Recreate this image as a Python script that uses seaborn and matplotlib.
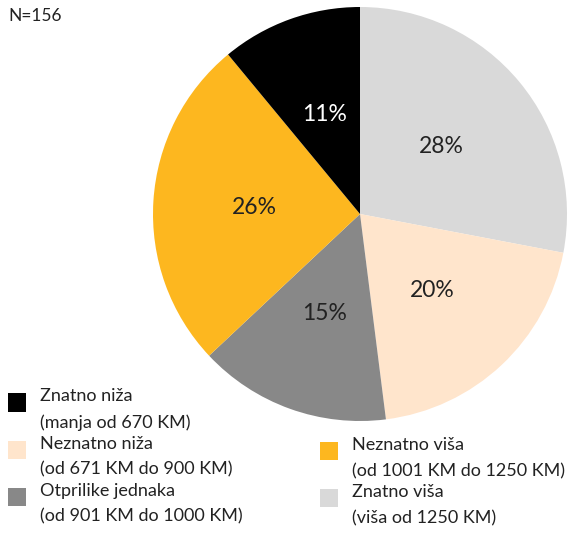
import matplotlib
matplotlib.use("Agg")
import matplotlib.pyplot as plt
import seaborn as sns
from matplotlib.patches import Patch, Rectangle
from matplotlib.legend_handler import HandlerPatch

sns.set_theme(style="white")
plt.rcParams['font.family'] = ['Lato', 'DejaVu Sans']

# pie order (clockwise from top)
pie_labels = ["Znatno viša", "Neznatno niža", "Otprilike jednaka", "Neznatno viša", "Znatno niža"]
pie_values = [28, 20, 15, 26, 11]
pie_colors = ["#D9D9D9", "#FFE5CC", "#888888", "#FDB71F", "#000000"]
pct_colors = ["#222222", "#222222", "#222222", "#222222", "#FFFFFF"]

# legend order
legend_col1 = ["Znatno niža\n(manja od 670 KM)", "Neznatno niža\n(od 671 KM do 900 KM)",
               "Otprilike jednaka\n(od 901 KM do 1000 KM)"]
legend_col1_colors = ["#000000", "#FFE5CC", "#888888"]
legend_col2 = ["Neznatno viša\n(od 1001 KM do 1250 KM)", "Znatno viša\n(viša od 1250 KM)"]
legend_col2_colors = ["#FDB71F", "#D9D9D9"]
n_text = "N=156"

W, H = 571, 546
fig = plt.figure(figsize=(W / 100, H / 100), dpi=100)
cx, cy, r = 360, 214, 207
ax = fig.add_axes([(cx - r) / W, (H - cy - r) / H, 2 * r / W, 2 * r / H])
wedges, texts, autotexts = ax.pie(
    pie_values, colors=pie_colors, startangle=90, counterclock=False,
    autopct=lambda p: f"{p:.0f}%", pctdistance=0.51, radius=1,
    wedgeprops=dict(linewidth=0, edgecolor="none"),
    textprops=dict(fontsize=16.5))
for t, c in zip(autotexts, pct_colors):
    t.set_color(c)
ax.set_xlim(-1, 1)
ax.set_ylim(-1, 1)
ax.axis("off")

fig.text(8 / W, 1 - 16 / H, n_text, fontsize=12.5, color="#222222", va="center")


def top_square(legend, orig_handle, xdescent, ydescent, width, height, fontsize):
    s = fontsize * 1.0
    return Rectangle((-xdescent, -ydescent + height - s), s, s)


hm = {Patch: HandlerPatch(patch_func=top_square)}

def make_legend(labels, colors, x, y):
    handles = [Patch(facecolor=c, edgecolor="none") for c in colors]
    leg = fig.legend(handles, labels, loc="upper left", bbox_to_anchor=(x / W, 1 - y / H),
                     frameon=False, handlelength=1.0, handleheight=2.5,
                     handletextpad=0.75, labelspacing=0.28, borderpad=0, borderaxespad=0,
                     handler_map=hm, prop=dict(size=13))
    for t in leg.get_texts():
        t.set_color("#222222")
        t.set_linespacing(1.75)
    return leg

make_legend(legend_col1, legend_col1_colors, 8, 388)
make_legend(legend_col2, legend_col2_colors, 320, 437)

fig.savefig("out.png", dpi=100)
